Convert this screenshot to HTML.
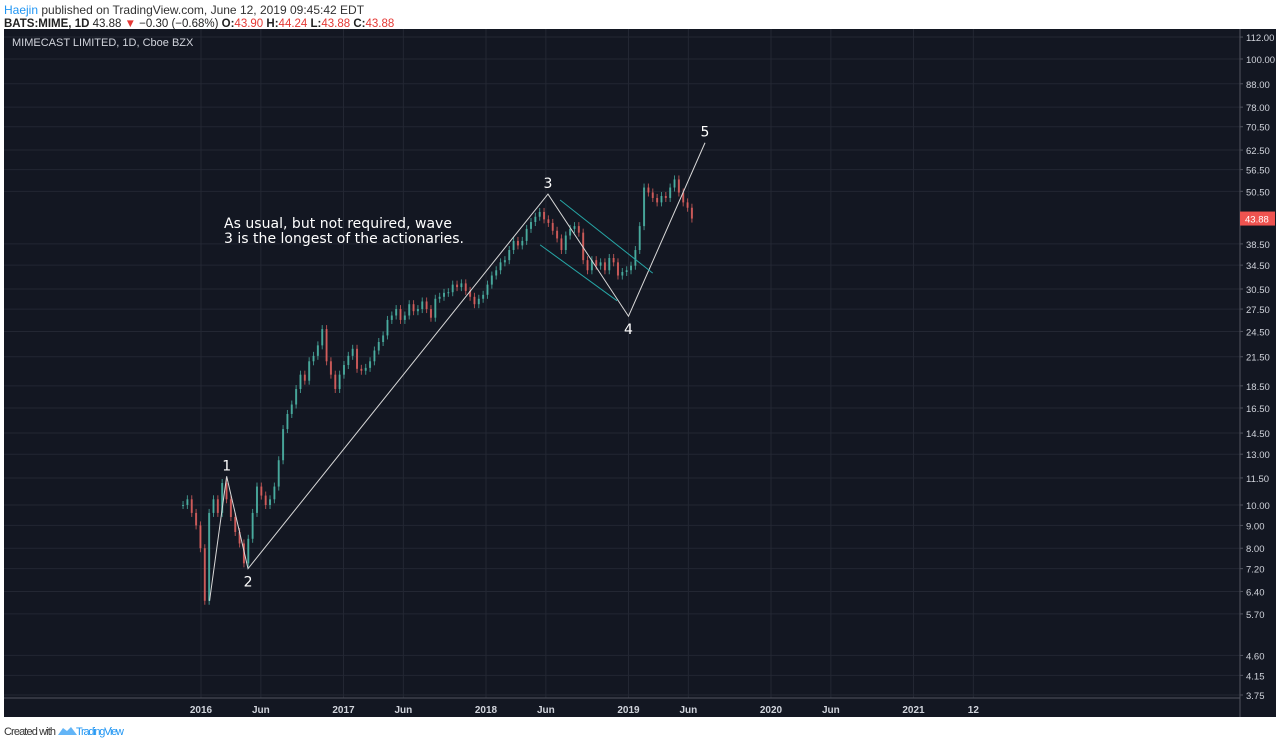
<!DOCTYPE html>
<html><head><meta charset="utf-8"><style>
body{margin:0;width:1280px;height:743px;background:#fff;overflow:hidden;font-family:"Liberation Sans",sans-serif}
svg{position:absolute;left:0;top:0}
</style></head><body>
<svg width="1280" height="743">
<text x="4" y="14" font-size="12" fill="#333"><tspan fill="#2196f3">Haejin</tspan> published on TradingView.com, June 12, 2019 09:45:42 EDT</text>
<text x="4" y="27" font-size="11.5" fill="#222" font-weight="bold">BATS:MIME, 1D <tspan font-weight="normal">43.88 </tspan><tspan fill="#e53935">▼</tspan><tspan font-weight="normal"> −0.30 (−0.68%) </tspan>O:<tspan fill="#e53935" font-weight="normal">43.90</tspan> H:<tspan fill="#e53935" font-weight="normal">44.24</tspan> L:<tspan fill="#e53935" font-weight="normal">43.88</tspan> C:<tspan fill="#e53935" font-weight="normal">43.88</tspan></text>
<rect x="4" y="29" width="1272" height="688" fill="#131722"/>
<g id="grid"></g>
<g id="candles"></g>
<g id="waves"></g>
<line x1="1240" y1="29" x2="1240" y2="717" stroke="#50535e"/>
<line x1="4" y1="698" x2="1240" y2="698" stroke="#50535e"/>
<g id="axes"></g>
<text x="12" y="46" font-size="11" fill="#d1d4dc">MIMECAST LIMITED, 1D, Cboe BZX</text>
<text font-family="DejaVu Sans, sans-serif" font-size="14" fill="#fff"><tspan x="224" y="228" textLength="228">As usual, but not required, wave</tspan><tspan x="224" y="243" textLength="240">3 is the longest of the actionaries.</tspan></text>
<text x="4" y="735" font-size="11" fill="#333" textLength="52">Created with</text>
<path d="M58 735 l5 -7 4 3 4 -4 6 8z" fill="#2196f3" opacity="0.7"/>
<text x="76" y="735" font-size="11" fill="#2196f3" textLength="48">TradingView</text>
</svg>
<script>
const priceTicks=[112,100,88,78,70.5,62.5,56.5,50.5,38.5,34.5,30.5,27.5,24.5,21.5,18.5,16.5,14.5,13,11.5,10,9,8,7.2,6.4,5.7,4.6,4.15,3.75];
const timeTicks=[2016,2016.42,2017,2017.42,2018,2018.42,2019,2019.42,2020,2020.42,2021,2021.42];
const timeLabels=["2016","Jun","2017","Jun","2018","Jun","2019","Jun","2020","Jun","2021","12"];
const closes=[10.0,10.3,9.6,9.0,8.0,6.1,9.6,10.3,9.6,11.2,10.3,9.4,8.7,8.2,7.4,8.4,9.6,11.0,10.5,10.0,10.3,11.0,12.6,14.8,16.0,16.8,18.2,19.6,19.0,21.0,21.6,22.8,24.8,21.0,19.6,18.2,19.6,20.6,21.6,22.4,20.2,20.0,20.3,21.0,22.2,23.2,24.0,26.0,26.6,27.5,26.0,26.6,28.2,27.2,27.5,28.6,27.5,26.3,29.0,29.3,29.9,30.0,31.2,30.8,31.4,30.2,29.3,28.2,29.0,29.6,31.2,32.7,33.6,35.0,35.4,37.3,39.1,38.2,39.1,41.6,43.1,44.3,45.4,43.7,42.9,41.2,39.6,37.3,40.2,41.6,42.2,40.8,35.4,33.6,35.4,34.4,35.0,33.6,35.8,35.0,32.7,33.3,33.6,34.4,37.3,42.2,51.5,50.2,48.8,47.7,49.3,48.8,51.5,53.7,50.2,47.7,46.4,43.88];
const startT=2015.874, endT=2019.445;
const waveT=[2016.06,2016.18,2016.33,2018.435,2019.0,2019.537];
const waveP=[6.1,11.6,7.2,49.8,26.5,64.9];
const waveLabels=["","1","2","3","4","5"];
const chanT=[[2018.52,2019.17],[2018.38,2018.92]];
const chanP=[[48.3,33.1],[38.3,28.7]];
const Y=p=>695-193.7*Math.log(p/3.75);
const X=t=>201+(t-2016)*142.5;
const NS="http://www.w3.org/2000/svg";
function mk(tag,attrs,parent,text){const e=document.createElementNS(NS,tag);for(const k in attrs)e.setAttribute(k,attrs[k]);if(text!==undefined)e.textContent=text;document.getElementById(parent).appendChild(e);return e;}
priceTicks.forEach(p=>{const y=Y(p);
 let l=mk('line',{x1:4,x2:1240,y1:y,y2:y,stroke:'#232733'},'grid');
 
 
 let t=mk('text',{x:1246,y:y+4,'font-size':9.5,fill:'#d1d4dc'},'axes',p.toFixed(2));
 
 
 let k=mk('line',{x1:1240,x2:1243,y1:y,y2:y,stroke:'#50535e'},'axes');
 
 
});
timeTicks.forEach((tt,i)=>{const x=X(tt);
 let l=mk('line',{x1:x,x2:x,y1:29,y2:698,stroke:'#232733'},'grid');
 
 
 let t=mk('text',{x:x,y:713,'font-size':10,fill:'#d1d4dc','text-anchor':'middle','font-weight':'bold'},'axes',timeLabels[i]);
 
 
});
const last=closes[closes.length-1];
let tag=mk('rect',{x:1240,y:Y(last)-7,width:35,height:14,fill:'#ef5350'},'axes');


let tagT=mk('text',{x:1245,y:Y(last)+4,'font-size':9.5,fill:'#fff'},'axes',last.toFixed(2));


const step=(endT-startT)/(closes.length-1);
closes.forEach((c,i)=>{const o=i?closes[i-1]:c;const x=X(startT+i*step);
 const up=c>=o;const col=up?'#4db6a8':'#e0625f';
 const yt=Math.min(Y(o),Y(c)),yb=Math.max(Y(o),Y(c));
 let w=mk('line',{x1:x,x2:x,y1:yt-4,y2:yb+4,stroke:col,'stroke-width':1,opacity:0.75},'candles');
 
 
 let b=mk('rect',{x:x-1,y:yt,width:2,height:Math.max(1,yb-yt),fill:col,opacity:0.8},'candles');
 
 
});
let pts=waveT.map((t,i)=>X(t)+','+Y(waveP[i])).join(' ');
let pl=mk('polyline',{points:pts,fill:'none',stroke:'#d8d8d8','stroke-width':1},'waves');


waveLabels.forEach((lb,i)=>{if(!lb)return;const x=X(waveT[i]),y=Y(waveP[i]);const below=(i===2||i===4);
 let t=mk('text',{x:x,y:below?y+18:y-6,'font-size':14,fill:'#fff','text-anchor':'middle','font-family':'DejaVu Sans, sans-serif'},'waves',lb);
 
 
});
chanT.forEach((ts,i)=>{
 let l=mk('line',{x1:X(ts[0]),y1:Y(chanP[i][0]),x2:X(ts[1]),y2:Y(chanP[i][1]),stroke:'#26a6a6','stroke-width':1},'waves');
 
 
});
</script>
</body></html>
